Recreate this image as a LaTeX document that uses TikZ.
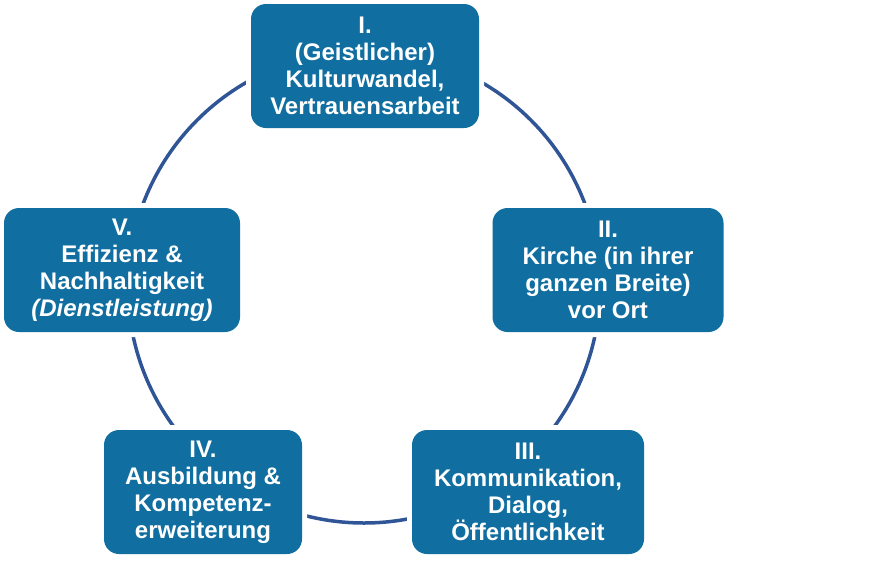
\documentclass[tikz,border=0pt]{standalone}
\usepackage{fontspec}
\setmainfont{Liberation Sans}
\definecolor{boxblue}{RGB}{16,110,160}
\definecolor{ringblue}{RGB}{47,85,151}
\begin{document}
\begin{tikzpicture}[x=1pt,y=-1pt,
  stagebox/.style={rectangle, rounded corners=15pt, fill=boxblue,
    preaction={draw=white, line width=10pt},
    text=white, align=center, inner sep=0pt,
    font=\bfseries\fontsize{24}{27}\selectfont},
  ring/.style={draw=ringblue, line width=3.5pt}]
\useasboundingbox (0,0) rectangle (887,568);
\coordinate (c) at (364,287);
\draw[ring] (c) circle[radius=236];
\node[stagebox, minimum width=228pt, minimum height=124pt] (s1) at (365,66)
  {I.\\(Geistlicher)\\Kulturwandel,\\Vertrauensarbeit};
\node[stagebox, minimum width=231pt, minimum height=124pt] (s2) at (608,270)
  {II.\\Kirche (in ihrer\\ganzen Breite)\\vor Ort};
\node[stagebox, minimum width=232pt, minimum height=124pt] (s3) at (528,492)
  {III.\\Kommunikation,\\Dialog,\\Öffentlichkeit};
\node[stagebox, minimum width=198pt, minimum height=124pt] (s4) at (203,492)
  {IV.\\Ausbildung \&\\Kompetenz-\\erweiterung};
\node[stagebox, minimum width=236pt, minimum height=124pt] (s5) at (122,270)
  {V.\\Effizienz \&\\Nachhaltigkeit\\\textit{(Dienstleistung)}};
\end{tikzpicture}
\end{document}
